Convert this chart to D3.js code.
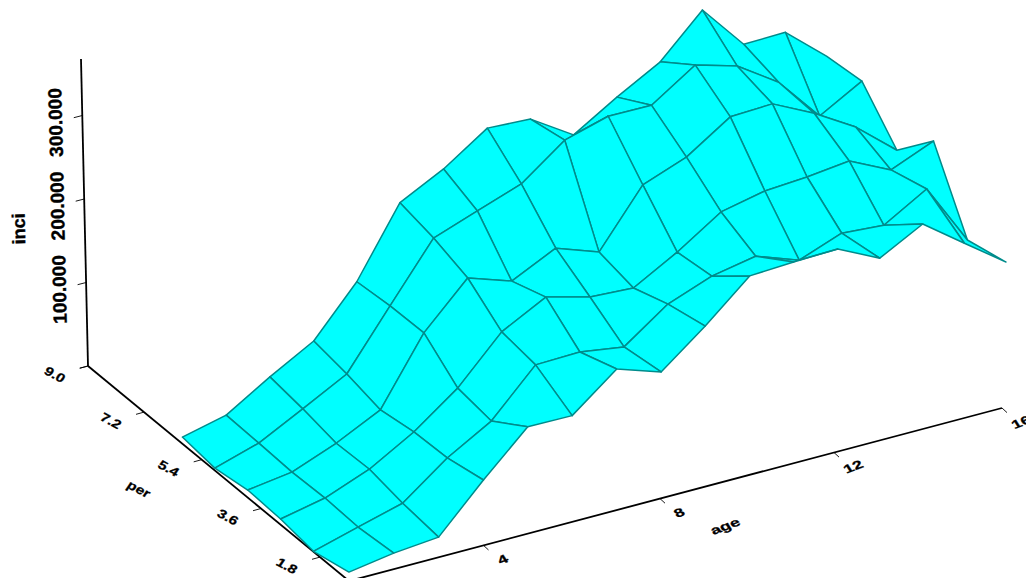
<!DOCTYPE html>
<html>
<head>
<meta charset="utf-8">
<script src="https://cdn.jsdelivr.net/npm/d3@7/dist/d3.min.js"></script>
<style>
html,body{margin:0;padding:0;background:#fff;overflow:hidden}
svg{display:block}
text{font-family:"Liberation Sans",Arial,sans-serif;font-weight:bold;fill:#000;stroke:#000;stroke-width:0.35}
</style>
</head>
<body>
<svg id="c" width="1026" height="578"></svg>
<script>
const ages=[1,2,3,4,5,6,7,8,9,10,11,12,13,14,15,16];
const periods=[1,2,3,4,5,6];
const inciPer1=[10.7,19.2,24.1,78.3,128.1,127.4,169.2,151.7,192.8,239.1,242,243.8,219.4,247,210.6,174.8];
const inciPer2=[0.5,15.3,29.6,69.6,99.8,153.1,154.5,146.6,184.1,203.7,213.7,195.3,214.2,210.4,240.5,166.1];
const inciPer3=[6.8,17.7,38,68.4,106.9,160.3,187.9,174,171,200.1,234.5,245.8,249.2,255,231,252.3];
const inciPer4=[9.1,16.4,36.7,62.4,140.7,192.4,174.7,200.1,181.6,248.2,267.7,302.2,304.4,279.9,250,208.9];
const inciPer5=[2.9,18.6,45.4,72.9,140.5,207.7,226.2,244.5,283.1,298,297.3,331.7,317.3,284.5,230.7,259.2];
const inciPer6=[8.1,20.2,51.7,80.5,137.4,218.1,244.5,279.4,276.4,243.7,275.1,303.6,352.3,298,299,257.2];
const inciRows=[inciPer1,inciPer2,inciPer3,inciPer4,inciPer5,inciPer6];
const ageTicks=[4,8,12,16];
const perTicks=[1.8,3.6,5.4,7.2,9];
const inciTicks=[0,100,200,300];
const inciLabelTicks=[100,200,300];
const inciTop=367.7;

const ageScale=d3.scaleLinear().domain([1,4,8,12,16]).range([0,134.5,311,485,653]);
const perScale=d3.scaleLinear().domain([1,1.8,3.6,5.4,7.2,9]).range([0,29,88,147.3,205,261]);
const inciScale=d3.scaleLinear().domain([0,100]).range([0,83.5]);

function project(a,p,v){
  const ax=ageScale(a),pt=perScale(p),z=inciScale(v);
  const xb=349+ax-pt-0.17*(a-1)*(p-1);
  const y=581-173*ax/653-215*pt/261-z;
  return [xb+z*(xb-503)*5.5e-5,y];
}

const svg=d3.select("#c");
const line=d3.line();
const seg=(a,b)=>line([a,b]);

// axes
const axes=svg.append("g").attr("fill","none").attr("stroke","#000").attr("stroke-width",1.8);
axes.append("path").attr("d",seg(project(1,9,0),project(1,9,inciTop)));
axes.append("path").attr("d",seg(project(1,9,0),project(1,1,0)));
axes.append("path").attr("d",seg(project(1,1,0),project(16,1,0)));

const ticks=svg.append("g").attr("fill","none").attr("stroke","#000").attr("stroke-width",0.9);
function tick(base,dx,dy){const b=base;ticks.append("path").attr("d",seg(b,[b[0]+dx,b[1]+dy]));}
inciTicks.forEach(v=>tick(project(1,9,v),-8.5,2.2));
perTicks.forEach(p=>tick(project(1,p,0),-8,2.2));
ageTicks.forEach(a=>tick(project(a,1,0),5,4.6));

// surface, painted far to near
const cells=[];
for(let pi=periods.length-2;pi>=0;pi--){
  for(let ai=ages.length-2;ai>=0;ai--){
    cells.push([
      project(ages[ai],periods[pi],inciRows[pi][ai]),
      project(ages[ai+1],periods[pi],inciRows[pi][ai+1]),
      project(ages[ai+1],periods[pi+1],inciRows[pi+1][ai+1]),
      project(ages[ai],periods[pi+1],inciRows[pi+1][ai])
    ]);
  }
}
svg.append("g").selectAll("path").data(cells).join("path")
  .attr("d",d=>line(d)+"Z")
  .attr("fill","#00ffff")
  .attr("stroke","#008b8b")
  .attr("stroke-width",1.5)
  .attr("stroke-linejoin","round");

// sheared labels
function label(txt,x,y,m,size){
  svg.append("text").text(txt)
    .attr("text-anchor","middle")
    .attr("font-size",size)
    .attr("dy","0.36em")
    .attr("transform",`translate(${x},${y}) matrix(${m.join(",")},0,0)`);
}
const perM=[0.8,0.42,-0.42,0.62];
const ageM=[0.95,-0.36,0.4,0.62];
perTicks.forEach(p=>{
  const b=project(1,p,0);
  label(d3.format(".1f")(p),b[0]-33,b[1]+8.5,perM,17);
});
label("per",139,489,perM,17);
ageTicks.forEach(a=>{
  const b=project(a,1,0);
  label(String(a),b[0]+19,b[1]+14,ageM,17);
});
label("age",725,526,ageM,17);
inciLabelTicks.forEach(v=>{
  const b=project(1,9,v);
  svg.append("text").text(d3.format(".3f")(v))
    .attr("text-anchor","middle").attr("font-size",19).attr("dy","0.36em")
    .attr("transform",`translate(${b[0]-27},${b[1]+7}) rotate(-91.3)`);
});
svg.append("text").text("inci").attr("text-anchor","middle").attr("font-size",18).attr("dy","0.36em")
  .attr("transform","translate(18.5,229) rotate(-91.3)");
</script>
</body>
</html>
